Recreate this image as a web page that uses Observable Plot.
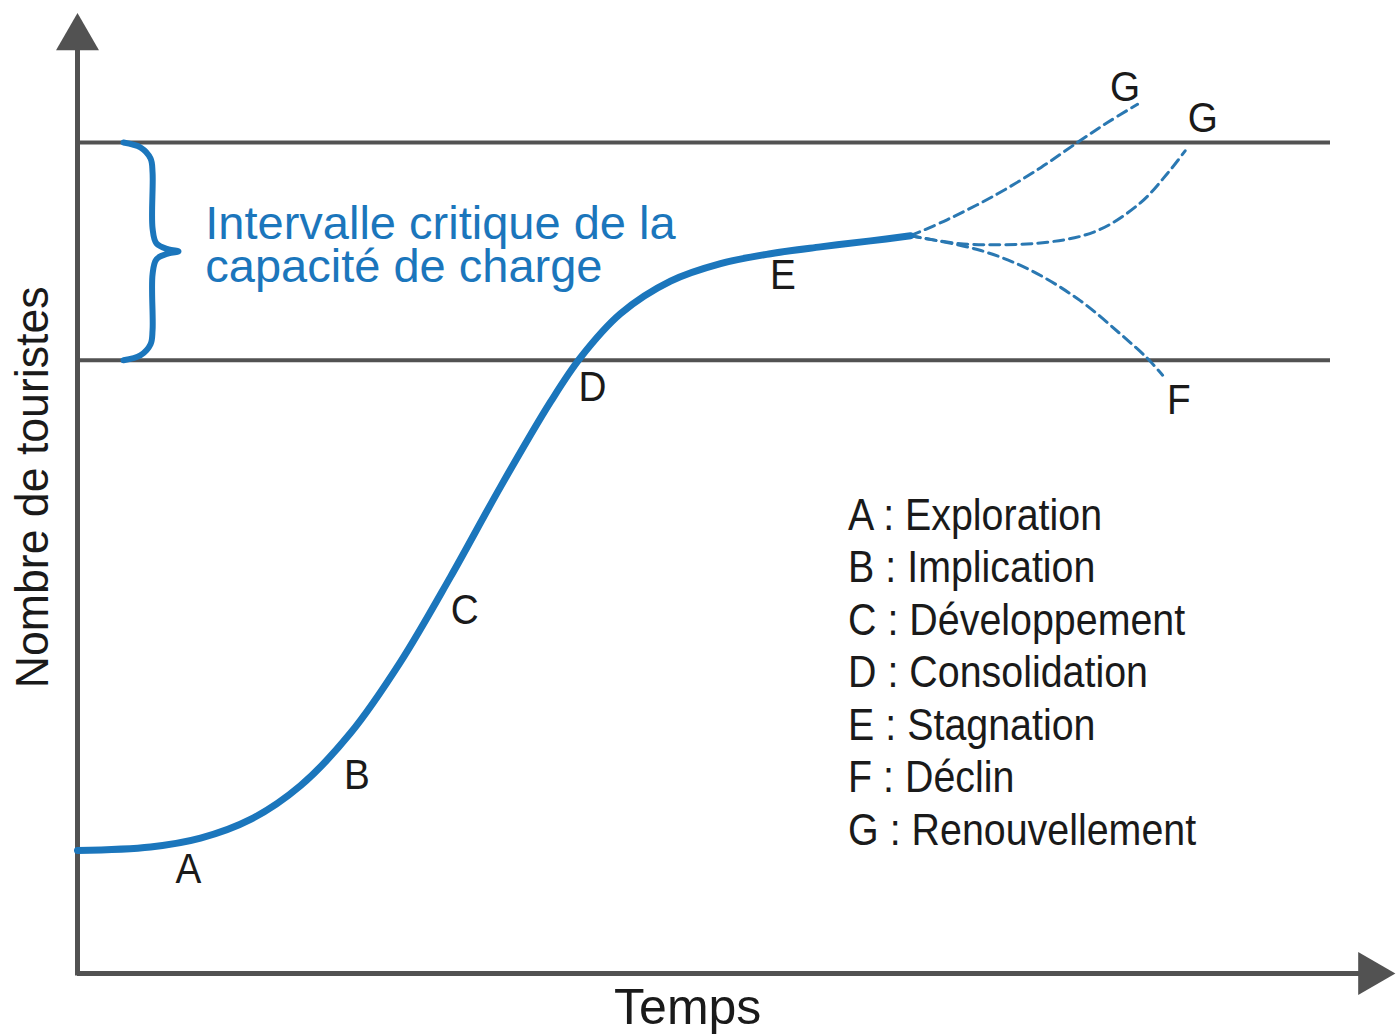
<!DOCTYPE html>
<html><head><meta charset="utf-8">
<script src="https://cdn.jsdelivr.net/npm/d3@7"></script>
<script src="https://cdn.jsdelivr.net/npm/@observablehq/plot@0.6"></script>
<style>body{margin:0;background:#fff;font-family:"Liberation Sans",Arial,sans-serif}</style>
</head><body><div id="chart"></div>
<script>
// ---- Data (time units 0–100, tourists units 0–100; upper capacity line = 100) ----
const mainTime     = [0, 5.83, 9.82, 13.81, 17.80, 21.79, 25.78, 29.77, 33.76, 37.75, 40.14, 43.34, 47.33, 51.32, 55.31, 59.30, 63.29, 66.48];
const mainTourists = [14.80, 15.23, 16.29, 18.54, 22.61, 28.93, 37.50, 47.73, 58.56, 68.78, 74.11, 79.40, 83.31, 85.42, 86.62, 87.44, 88.16, 88.78];

const renewHighTime     = [66.48, 69.4, 73.4, 76.9, 79.8, 82.2, 84.6];
const renewHighTourists = [88.78, 90.7, 93.8, 97.0, 100.0, 102.4, 104.6];
const renewLowTime      = [66.48, 70.7, 77.4, 81.4, 84.8, 87.0, 88.4];
const renewLowTourists  = [88.78, 87.8, 88.0, 89.4, 92.7, 96.3, 99.0];
const declineTime       = [66.48, 72.1, 76.1, 80.0, 83.2, 85.4, 86.6];
const declineTourists   = [88.78, 87.0, 84.6, 81.0, 77.0, 74.0, 72.0];

const capacityUpper = 100;
const capacityLower = 73.8;

const labelLetters  = ["A", "B", "C", "D", "E", "F", "G", "G"];
const labelTime     = [8.86, 22.3, 30.9, 41.1, 56.3, 87.9, 83.6, 89.8];
const labelTourists = [12.5, 23.9, 43.7, 70.6, 84.0, 69.0, 106.6, 102.9];

const legendLetters = ["A", "B", "C", "D", "E", "F", "G"];
const legendStages  = ["Exploration", "Implication", "Développement", "Consolidation", "Stagnation", "Déclin", "Renouvellement"];

const yTitle = "Nombre de touristes";
const xTitle = "Temps";
const bandTitle = "Intervalle critique de la\ncapacité de charge";

// ---- Build tables ----
const zip = (xs, ys) => xs.map((x, i) => ({x, y: ys[i]}));
const mainCurve = zip(mainTime, mainTourists);
const branches = [
  ...zip(renewHighTime, renewHighTourists).map(d => ({...d, b: "g1"})),
  ...zip(renewLowTime, renewLowTourists).map(d => ({...d, b: "g2"})),
  ...zip(declineTime, declineTourists).map(d => ({...d, b: "f"}))
];
const labels = labelLetters.map((t, i) => ({t, x: labelTime[i], y: labelTourists[i]}));
const legendStart = 55.1, legendStep = 6.32, legendX = 61.5;
const legend = legendLetters.map((l, i) => ({t: `${l} : ${legendStages[i]}`, x: legendX, y: legendStart - i * legendStep}));

// curly brace spanning the capacity interval
function brace(lo, hi) {
  const mid = (lo + hi) / 2;
  return [
    {x: 3.67, y: hi}, {x: 5.03, y: hi - 0.6}, {x: 5.83, y: hi - 1.93}, {x: 5.99, y: hi - 3.6},
    {x: 5.99, y: mid + 2.77}, {x: 6.3, y: mid + 0.96}, {x: 7.26, y: mid + 0.24}, {x: 8.06, y: mid},
    {x: 7.26, y: mid - 0.24}, {x: 6.3, y: mid - 0.96}, {x: 5.99, y: mid - 2.77},
    {x: 5.99, y: lo + 3.6}, {x: 5.83, y: lo + 1.93}, {x: 5.03, y: lo + 0.6}, {x: 3.67, y: lo}
  ];
}

const gray = "#525252", blue = "#1b76bc", dashBlue = "#2a78b2", ink = "#1a1a1a";

const chart = Plot.plot({
  width: 1400, height: 1036,
  marginTop: 0, marginRight: 0, marginBottom: 0, marginLeft: 0,
  x: {domain: [0, 100], range: [77, 1330], axis: null},
  y: {domain: [0, 100], range: [973, 142], axis: null},
  style: {fontFamily: "'Liberation Sans', Arial, sans-serif", background: "#fff"},
  marks: [
    // axes
    Plot.ruleY([0], {x1: 0, x2: 103.2, stroke: gray, strokeWidth: 5}),
    Plot.ruleX([0], {y1: -0.3, y2: 112.6, stroke: gray, strokeWidth: 5}),
    Plot.dot([{x: 103.2, y: 0}], {x: "x", y: "y", symbol: "triangle2", r: 20.5, fill: gray, rotate: 90}),
    Plot.dot([{x: 0, y: 112.6}], {x: "x", y: "y", symbol: "triangle2", r: 20.5, fill: gray}),
    // capacity lines
    Plot.ruleY([capacityUpper, capacityLower], {x1: 0, x2: 100, stroke: gray, strokeWidth: 4}),
    // brace
    Plot.line(brace(capacityLower, capacityUpper), {x: "x", y: "y", stroke: blue, strokeWidth: 6, curve: "catmull-rom", strokeLinecap: "round"}),
    // branches
    Plot.line(branches, {x: "x", y: "y", z: "b", stroke: dashBlue, strokeWidth: 3, strokeDasharray: "10,6", curve: "catmull-rom"}),
    // main curve
    Plot.line(mainCurve, {x: "x", y: "y", stroke: blue, strokeWidth: 7, curve: "catmull-rom", strokeLinecap: "round"}),
    // band title
    Plot.text([bandTitle], {x: 10.2, y: 87.4, text: d => d, textAnchor: "start", lineAnchor: "middle", lineHeight: 0.915, fontSize: 47, fill: blue}),
    // stage labels
    Plot.text(labels, {x: "x", y: "y", text: "t", fontSize: 43, fill: ink}),
    // legend
    Plot.text(legend, {x: "x", y: "y", text: "t", textAnchor: "start", fontSize: 44, fill: ink}),
    // axis titles
    Plot.text([yTitle], {x: -3.5, y: 58.5, text: d => d, rotate: -90, fontSize: 46, fill: ink}),
    Plot.text([xTitle], {x: 48.7, y: -4.1, text: d => d, fontSize: 50, fill: ink})
  ]
});
document.getElementById("chart").append(chart);

// horizontal condensing of the narrow typeface used in the original
const condense = new Map();
legend.forEach(d => condense.set(d.t, 0.895));
labelLetters.forEach(t => condense.set(t, 0.9));
condense.set(yTitle, 0.97);
d3.select(chart).selectAll("text").each(function() {
  const f = condense.get(this.textContent);
  if (f) {
    const w = this.getComputedTextLength();
    this.setAttribute("textLength", w * f);
    this.setAttribute("lengthAdjust", "spacingAndGlyphs");
  }
});
</script></body></html>
